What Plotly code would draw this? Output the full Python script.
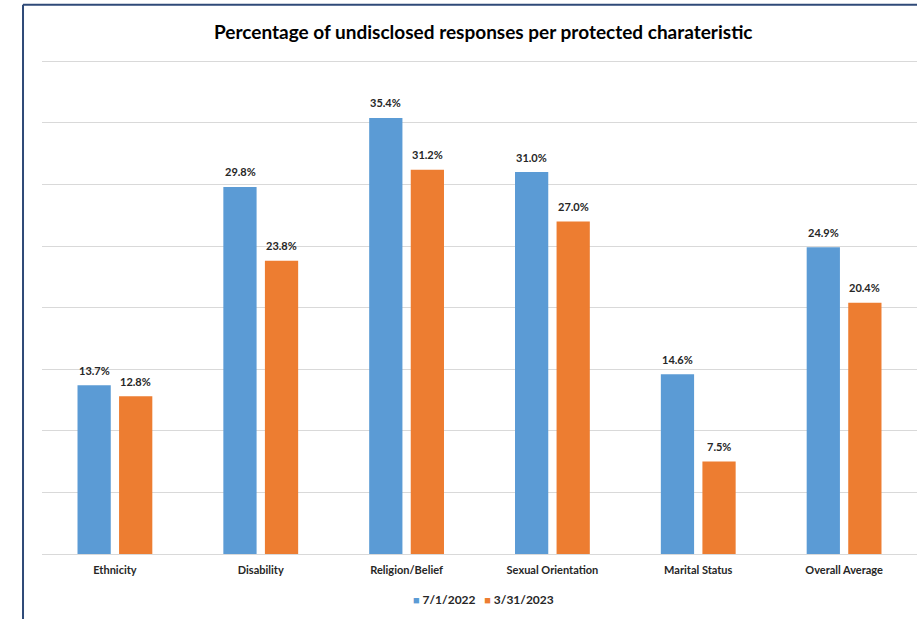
import plotly.graph_objects as go

# Share of responses left undisclosed, by protected characteristic
categories = ["Ethnicity", "Disability", "Religion/Belief", "Sexual Orientation",
              "Marital Status", "Overall Average"]
series_names = ["7/1/2022", "3/31/2023"]
values_2022 = [13.7, 29.8, 35.4, 31.0, 14.6, 24.9]
values_2023 = [12.8, 23.8, 31.2, 27.0, 7.5, 20.4]
colors = ["#5B9BD5", "#ED7D31"]

FONT = "Lato, 'Open Sans', sans-serif"

fig = go.Figure()
for name, vals, col in zip(series_names, [values_2022, values_2023], colors):
    fig.add_trace(go.Bar(
        x=categories, y=vals, name=name, marker_color=col,
        marker_line_width=0, hoverinfo="x+y", showlegend=False,
    ))

# Value labels above each bar
offsets = [-0.142, 0.142]
for vals, off in zip([values_2022, values_2023], offsets):
    for i, v in enumerate(vals):
        fig.add_annotation(
            x=i + off, y=v, xref="x", yref="y", text=f"{v:.1f}%",
            showarrow=False, yshift=15,
            font=dict(family=FONT, size=11, color="#262626", weight="bold"),
        )

# Compact legend: small coloured squares next to series names
legend_text = "&nbsp;&nbsp;&nbsp;".join(
    f"<span style='color:{c}; font-size:11px'>■</span> {n}"
    for n, c in zip(series_names, colors)
)
fig.add_annotation(
    x=0.505, y=-0.093, xref="paper", yref="paper", xanchor="center",
    yanchor="middle", text=legend_text, showarrow=False,
    font=dict(family=FONT, size=12, color="#262626", weight="bold"),
)

# Outer frame (top and left edges)
frame = dict(color="#2F4A78", width=2)
fig.add_shape(type="line", xref="paper", yref="paper",
              x0=-0.0217, x1=1.05, y0=1.1116, y1=1.1116, line=frame)
fig.add_shape(type="line", xref="paper", yref="paper",
              x0=-0.0217, x1=-0.0217, y0=1.1116, y1=-0.2, line=frame)

fig.update_layout(
    width=917, height=619,
    margin=dict(l=42, r=0, t=60, b=65),
    paper_bgcolor="white", plot_bgcolor="white",
    barmode="group", bargap=0.43, bargroupgap=0.2,
    title=dict(
        text="Percentage of undisclosed responses per protected charateristic",
        x=0.527, xanchor="center", y=0.948, yanchor="middle",
        font=dict(family=FONT, size=19, color="#000000", weight="bold"),
    ),
    font=dict(family=FONT, color="#404040"),
    xaxis=dict(
        type="category", range=[-0.5, 5.5],
        showgrid=False, showline=False, zeroline=False,
        ticks="", ticklabelstandoff=8,
        tickfont=dict(size=11, color="#262626", weight="bold"),
    ),
    yaxis=dict(
        range=[0, 40.1], dtick=5, showticklabels=False,
        showgrid=True, gridcolor="#D9D9D9", gridwidth=1,
        zeroline=True, zerolinecolor="#D9D9D9", zerolinewidth=1,
        showline=False, ticks="",
    ),
    showlegend=False,
)

fig.write_html("out.html")
